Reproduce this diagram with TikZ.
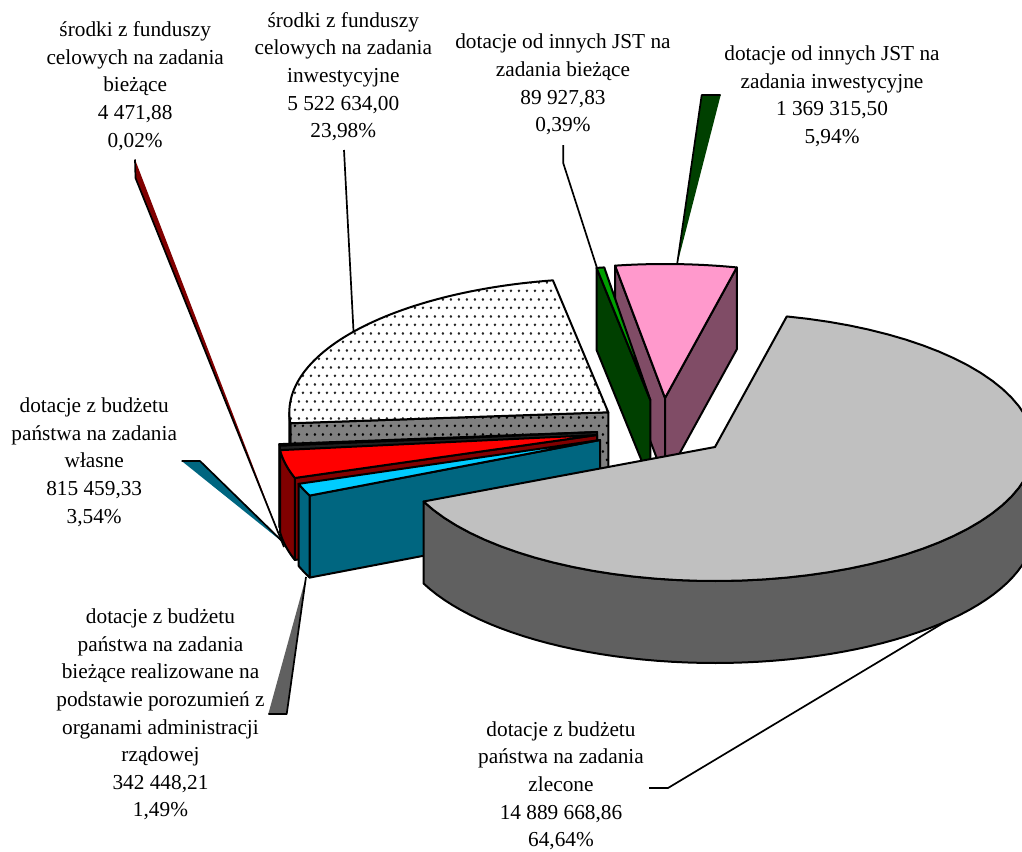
\documentclass[tikz,border=0pt]{standalone}
\usepackage{fontspec}
\setmainfont{Liberation Serif}
\usetikzlibrary{patterns}
\pgfdeclarepatternformonly{piedots}{\pgfqpoint{0pt}{0pt}}{\pgfqpoint{8.4pt}{16.8pt}}{\pgfqpoint{8.4pt}{16.8pt}}{%
  \pgfpathcircle{\pgfqpoint{2.1pt}{4.2pt}}{1.45pt}%
  \pgfpathcircle{\pgfqpoint{6.3pt}{12.6pt}}{1.45pt}%
  \pgfusepath{fill}}
\definecolor{greytop}{HTML}{C0C0C0}
\definecolor{greyside}{HTML}{606060}
\definecolor{dotside}{HTML}{808080}
\definecolor{dotink}{HTML}{262626}
\definecolor{redtop}{HTML}{FF0000}
\definecolor{redside}{HTML}{800000}
\definecolor{cyantop}{HTML}{00CCFF}
\definecolor{cyanside}{HTML}{006680}
\definecolor{greentop}{HTML}{00A000}
\definecolor{greenside}{HTML}{004000}
\definecolor{pinktop}{HTML}{FF99CC}
\definecolor{pinkside}{HTML}{804C66}
\definecolor{tinytop}{HTML}{404040}
\definecolor{tinyside}{HTML}{202020}
% top face of a slice: centre x, centre y, start, end, style
\newcommand{\PieTop}[5]{\path[pie,#5] (#1,#2) -- plot[domain=#3:#4,samples=60,variable=\t] ({#1+319*cos(\t)},{#2+134*sin(\t)}) -- cycle;}
% outer side of a slice
\newcommand{\PieSide}[5]{\path[pie,#5] plot[domain=#3:#4,samples=60,variable=\t] ({#1+319*cos(\t)},{#2+134*sin(\t)}) -- plot[domain=#4:#3,samples=60,variable=\t] ({#1+319*cos(\t)},{#2+82+134*sin(\t)}) -- cycle;}
% radial face of a slice
\newcommand{\PieRad}[4]{\path[pie,#4] (#1,#2) -- ({#1+319*cos(#3)},{#2+134*sin(#3)}) -- ++(0,82) -- (#1,{#2+82}) -- cycle;}
\begin{document}
\begin{tikzpicture}[x=1pt,y=-1pt,
  pie/.style={draw=black,line width=2pt,line join=round},
  dotface/.style={preaction={fill=white},pattern=piedots,pattern color=dotink},
  dotband/.style={preaction={fill=dotside},pattern=piedots,pattern color=black},
  leader/.style={draw=black,line width=1.7pt,line join=round},
  lbl/.style={font=\fontsize{21.3}{27.6}\selectfont,align=center,inner sep=0pt,anchor=north}]
\useasboundingbox (0,0) rectangle (1022,851);
\clip (0,0) rectangle (1022,851);

% ---------- leader lines ----------
\coordinate (a1) at (135,159.5);
\coordinate (a2) at (135.5,178);
\coordinate (a3) at (284,547);
\fill[redside] (a1) -- (a2) -- (a3) -- cycle;
\draw[leader] (a1) -- (a2) -- (a3);

\coordinate (b1) at (344,150);
\coordinate (b2) at (353.5,331);
\draw[leader] (b1) -- (b2);

\coordinate (c1) at (563.3,145);
\coordinate (c2) at (563.3,163.3);
\coordinate (c3) at (597,268);
\draw[leader] (c1) -- (c2) -- (c3);

\coordinate (d1) at (720.7,95);
\coordinate (d2) at (701.7,95);
\coordinate (d3) at (677,265);
\fill[greenside] (d1) -- (d2) -- (d3) -- cycle;
\draw[leader] (d1) -- (d2) -- (d3);

\coordinate (e1) at (181.7,461);
\coordinate (e2) at (200,461);
\coordinate (e3) at (285,544);
\fill[cyanside] (e1) -- (e2) -- (e3) -- cycle;
\draw[leader] (e1) -- (e2) -- (e3);

\coordinate (f1) at (268.3,714);
\coordinate (f2) at (286.7,714);
\coordinate (f3) at (306,577);
\fill[greyside] (f1) -- (f2) -- (f3) -- cycle;
\draw[leader] (f1) -- (f2) -- (f3);

\coordinate (g1) at (649,788);
\coordinate (g2) at (668,788);
\coordinate (g3) at (955,616);
\draw[leader] (g1) -- (g2) -- (g3);

% ---------- slices, back to front ----------
% środki z funduszy celowych na zadania inwestycyjne (dotted)
\PieRad{608.3}{412.3}{175.3}{dotband}
\PieSide{608.3}{412.3}{175.3}{180}{dotband}
\PieTop{608.3}{412.3}{175.3}{260}{dotface}
% środki z funduszy celowych na zadania bieżące (tiny)
\PieRad{597}{432}{174.2}{fill=tinyside}
\PieSide{597}{432}{174.2}{174.8}{fill=tinyside}
\PieTop{597}{432}{174.2}{174.8}{fill=tinytop}
% dotacje ... własne (red)
\PieRad{597}{435}{161.3}{fill=redside}
\PieSide{597}{435}{161.3}{173.5}{fill=redside}
\PieTop{597}{435}{161.3}{173.5}{fill=redtop}
% dotacje ... porozumień (cyan)
\PieRad{600}{440}{155.5}{fill=cyanside}
\PieSide{600}{440}{155.5}{160.9}{fill=cyanside}
\PieTop{600}{440}{155.5}{160.9}{fill=cyantop}
% dotacje od innych JST na zadania inwestycyjne (pink)
\PieRad{665}{398}{261}{fill=pinkside}
\PieRad{665}{398}{283}{fill=pinkside}
\PieTop{665}{398}{261}{283}{fill=pinktop}
% dotacje od innych JST na zadania bieżące (green)
\PieRad{650.3}{400}{260.3}{fill=greenside}
\PieTop{650.3}{400}{260.3}{261.7}{fill=greentop}
% dotacje ... zlecone (grey)
\PieSide{715}{447}{0}{156}{fill=greyside}
\PieTop{715}{447}{-77}{156}{fill=greytop}

% ---------- labels ----------
\node[lbl] (labA) at (135.2,21.5) {środki z funduszy\\celowych na zadania\\bieżące\\4 471,88\\0,02\%};
\node[lbl] (labB) at (343.3,12.2) {środki z funduszy\\celowych na zadania\\inwestycyjne\\5 522 634,00\\23,98\%};
\node[lbl] (labC) at (563,34) {dotacje od innych JST na\\zadania bieżące\\89 927,83\\0,39\%};
\node[lbl] (labD) at (832,45.5) {dotacje od innych JST na\\zadania inwestycyjne\\1 369 315,50\\5,94\%};
\node[lbl] (labE) at (94.2,397.8) {dotacje z budżetu\\państwa na zadania\\własne\\815 459,33\\3,54\%};
\node[lbl] (labF) at (160.5,608.8) {dotacje z budżetu\\państwa na zadania\\bieżące realizowane na\\podstawie porozumień z\\organami administracji\\rządowej\\342 448,21\\1,49\%};
\node[lbl] (labG) at (561,721.3) {dotacje z budżetu\\państwa na zadania\\zlecone\\14 889 668,86\\64,64\%};
\end{tikzpicture}
\end{document}
